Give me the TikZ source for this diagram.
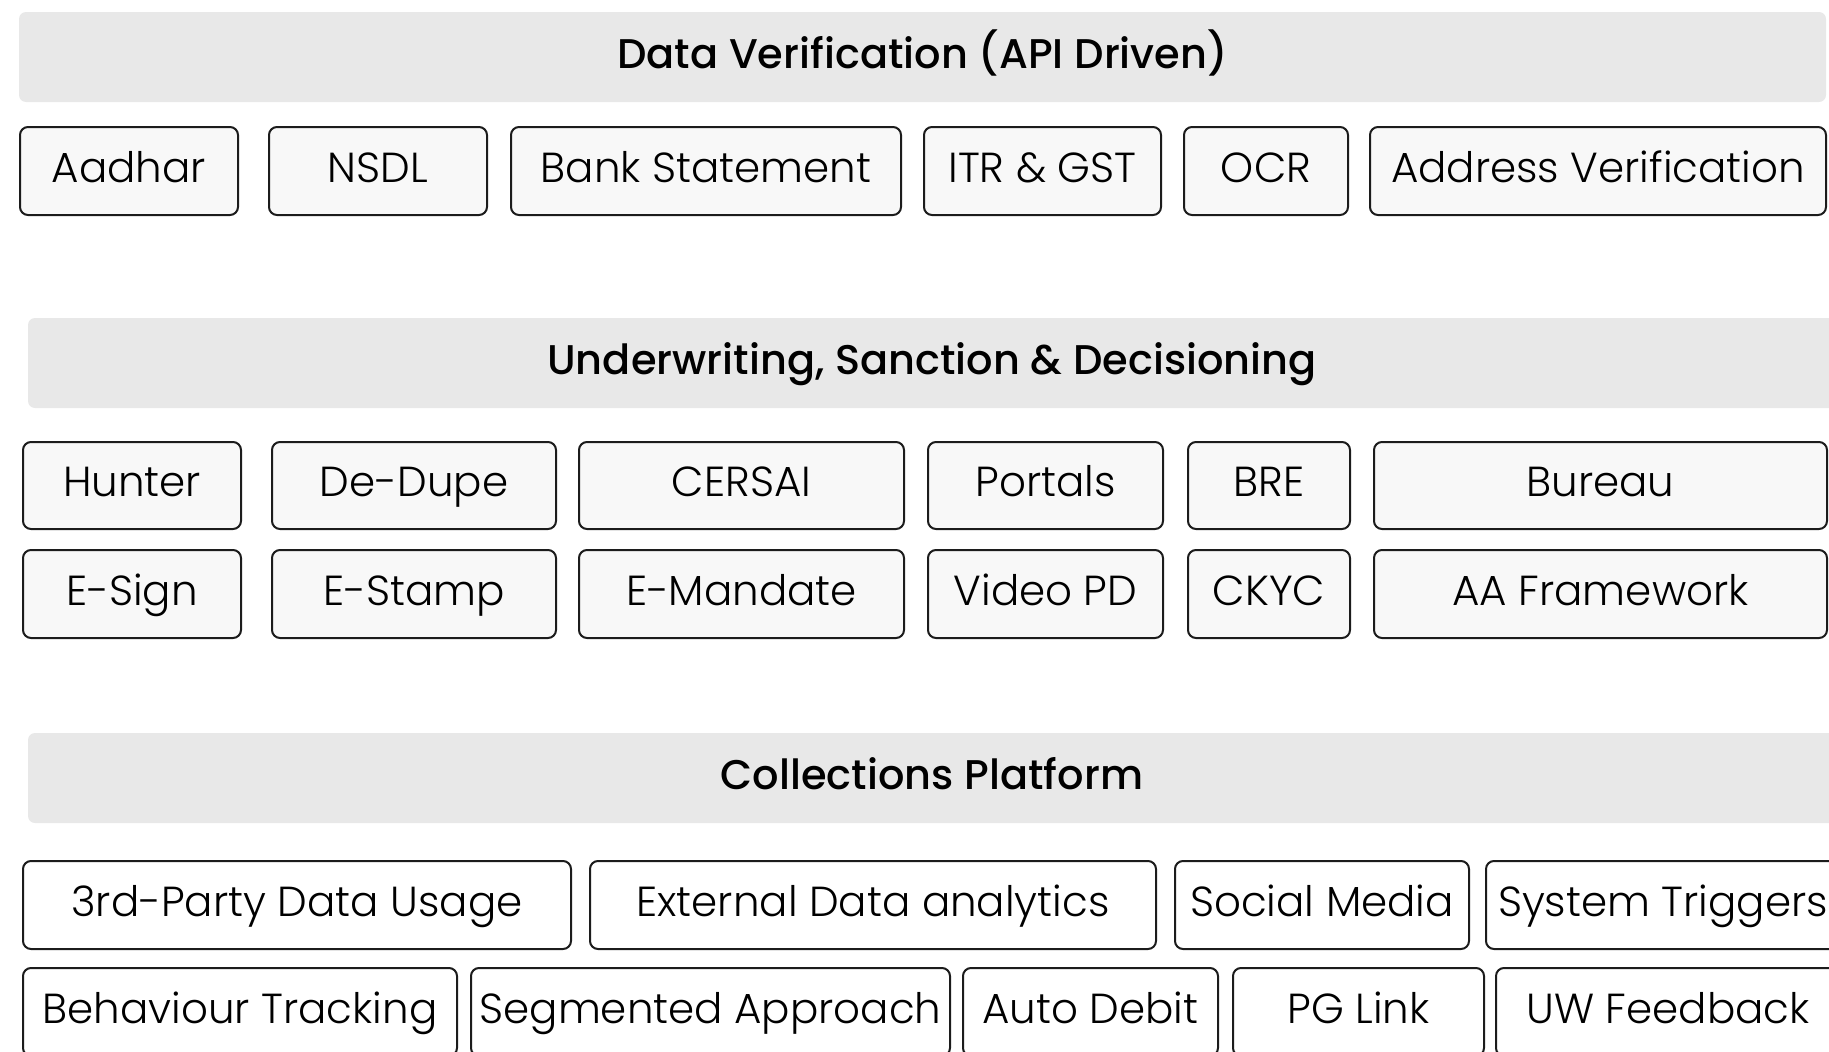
\documentclass[tikz,border=0pt]{standalone}
\usepackage{fontspec}
\setmainfont{Poppins}[UprightFont={* Light},BoldFont={* Medium}]
\definecolor{headfill}{HTML}{E8E8E8}
\definecolor{boxfill}{HTML}{F8F8F8}
\definecolor{bordercol}{HTML}{1C1C1C}
\tikzset{
  itembox/.style={draw=bordercol, line width=2pt, rounded corners=8pt, fill=boxfill,
    inner sep=0pt, font=\fontsize{42}{50}\selectfont, text=black,
    text height=30pt, text depth=8pt},
  whitebox/.style={fill=white},
  headbox/.style={fill=headfill, rounded corners=7pt, inner sep=0pt,
    font=\fontsize{41.5}{50}\selectfont\bfseries, text=black,
    text height=30pt, text depth=8pt},
}
\newcommand\mybox[7][]{\node[itembox,#1,minimum width={(#4-#3)*1pt},minimum height={(#6-#5)*1pt}] (#2) at ({(#3+#4)/2},{(#5+#6)/2}) {#7};}
\newcommand\myhead[6]{\node[headbox,minimum width={(#3-#2)*1pt},minimum height={(#5-#4)*1pt}] (#1) at ({(#2+#3)/2},{(#4+#5)/2}) {#6};}
\begin{document}
\begin{tikzpicture}[x=1pt,y=-1pt]
\useasboundingbox (0,0) rectangle (1829,1052);
\clip (0,0) rectangle (1829,1052);
% Section 1
\myhead{h1}{19}{1826}{12}{102}{Data Verification (API Driven)}
\mybox{aadhar}{20}{238}{127}{215}{Aadhar}
\mybox{nsdl}{269}{487}{127}{215}{NSDL}
\mybox{bank}{511}{901}{127}{215}{Bank Statement}
\mybox{itr}{924}{1161}{127}{215}{ITR \& GST}
\mybox{ocr}{1184}{1348}{127}{215}{OCR}
\mybox{addr}{1370}{1826}{127}{215}{Address Verification}
% Section 2
\myhead{h2}{28}{1836}{318}{408}{Underwriting, Sanction \& Decisioning}
\mybox{hunter}{23}{241}{442}{529}{Hunter}
\mybox{dedupe}{272}{556}{442}{529}{De-Dupe}
\mybox{cersai}{579}{904}{442}{529}{CERSAI}
\mybox{portals}{928}{1163}{442}{529}{Portals}
\mybox{bre}{1188}{1350}{442}{529}{BRE}
\mybox{bureau}{1374}{1827}{442}{529}{Bureau}
\mybox{esign}{23}{241}{550}{638}{E-Sign}
\mybox{estamp}{272}{556}{550}{638}{E-Stamp}
\mybox{emandate}{579}{904}{550}{638}{E-Mandate}
\mybox{videopd}{928}{1163}{550}{638}{Video PD}
\mybox{ckyc}{1188}{1350}{550}{638}{CKYC}
\mybox{aaf}{1374}{1827}{550}{638}{AA Framework}
% Section 3
\myhead{h3}{28}{1836}{733}{823}{Collections Platform}
\mybox[whitebox]{third}{23}{571}{861}{949}{3rd-Party Data Usage}
\mybox[whitebox]{ext}{590}{1156}{861}{949}{External Data analytics}
\mybox[whitebox]{social}{1175}{1469}{861}{949}{Social Media}
\mybox[whitebox]{systrig}{1486}{1840}{861}{949}{System Triggers}
\mybox[whitebox]{behav}{23}{457}{968}{1056}{Behaviour Tracking}
\mybox[whitebox]{segm}{471}{950}{968}{1056}{Segmented Approach}
\mybox[whitebox]{autod}{963}{1218}{968}{1056}{Auto Debit}
\mybox[whitebox]{pglink}{1233}{1484}{968}{1056}{PG Link}
\mybox[whitebox]{uwfb}{1496}{1840}{968}{1056}{UW Feedback}
\end{tikzpicture}
\end{document}
